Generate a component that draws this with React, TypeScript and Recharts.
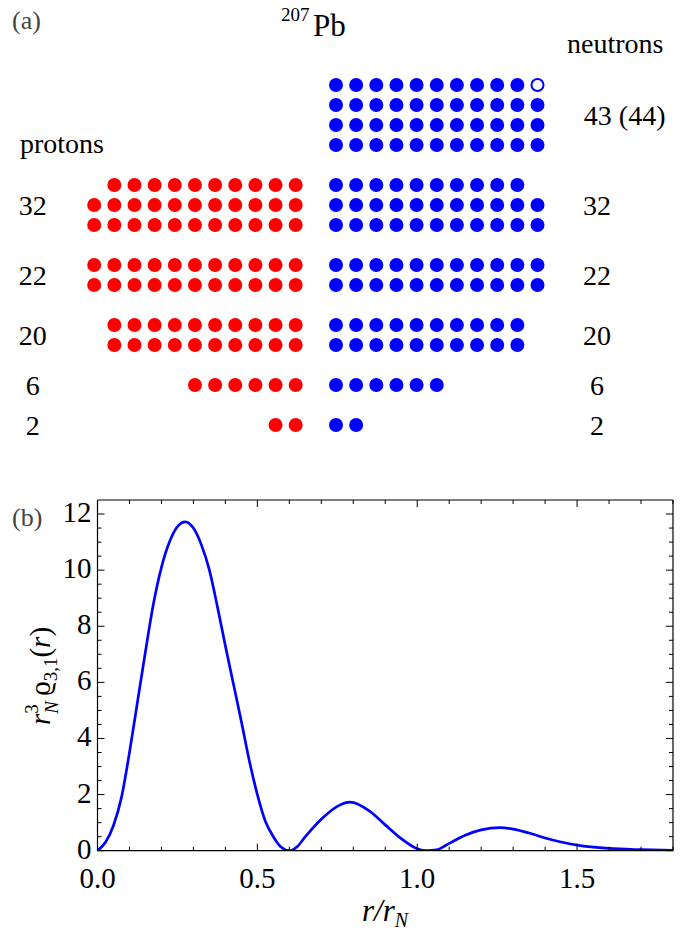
import { ScatterChart, Scatter, LineChart, Line, XAxis, YAxis, Customized } from 'recharts';

if (typeof document !== 'undefined') document.body.style.margin = '0';

const FONT = '"Liberation Serif", "Times New Roman", "DejaVu Serif", serif';
const RED = '#ff0000';
const BLUE = '#0000ff';

// ---- panel (a): occupied single-particle states of 207Pb, one entry per dot row (0 = top row)
const rowIndex = [0, 1, 2, 3, 5, 6, 7, 9, 10, 12, 13, 15, 17];
const protonCounts = [0, 0, 0, 0, 10, 11, 11, 11, 11, 10, 10, 6, 2];
const neutronCounts = [10, 11, 11, 11, 10, 11, 11, 11, 11, 10, 10, 6, 2];
const neutronHoles = [1, 0, 0, 0, 0, 0, 0, 0, 0, 0, 0, 0, 0];

// shell labels (same for both sides) and the row they sit on
const shellNames = ['32', '22', '20', '6', '2'];
const shellRows = [6, 9.5, 12.5, 15, 17];
const topShellName = '43 (44)';
const topShellRow = 1.5;

// ---- panel (b): r_N^3 rho_{3,1}(r)
const rValues = [
  0, 0.025, 0.05, 0.075, 0.1, 0.125, 0.15, 0.175, 0.2, 0.225, 0.25, 0.275, 0.3, 0.325, 0.35,
  0.375, 0.4, 0.425, 0.45, 0.475, 0.5, 0.525, 0.55, 0.575, 0.6, 0.625, 0.65, 0.7, 0.75, 0.79,
  0.85, 0.9, 0.95, 1.0, 1.03, 1.06, 1.1, 1.15, 1.2, 1.26, 1.3, 1.35, 1.4, 1.45, 1.5, 1.6, 1.7, 1.8,
];
const densityValues = [
  0, 0.3, 0.9, 1.9, 3.5, 5.3, 7.1, 8.8, 10.1, 11.0, 11.55, 11.72, 11.5, 10.9, 10.0,
  8.7, 7.3, 5.95, 4.6, 3.2, 2.0, 1.05, 0.5, 0.12, 0, 0.15, 0.5, 1.12, 1.58, 1.73,
  1.42, 0.92, 0.43, 0.07, 0, 0.03, 0.26, 0.55, 0.74, 0.82, 0.77, 0.63, 0.45, 0.31, 0.2, 0.08, 0.035, 0.01,
];

const xTicks = [0, 0.1, 0.2, 0.3, 0.4, 0.5, 0.6, 0.7, 0.8, 0.9, 1, 1.1, 1.2, 1.3, 1.4, 1.5, 1.6, 1.7, 1.8];
const xMajorTicks = [0, 0.5, 1, 1.5];
const yTicks = [0, 0.5, 1, 1.5, 2, 2.5, 3, 3.5, 4, 4.5, 5, 5.5, 6, 6.5, 7, 7.5, 8, 8.5, 9, 9.5, 10, 10.5, 11, 11.5, 12];
const yMajorTicks = [0, 2, 4, 6, 8, 10, 12];

// layout of the dot grid (column 0 = first neutron column)
const COL_PX = 20.15;
const ROW_PX = 20;
const ORIGIN_X = 336;
const ORIGIN_Y = 85;
const PANEL_A_H = 470;
const protonLastCol = -2;
const leftLabelCol = -15.05;
const rightLabelCol = 12.95;
const topLabelCol = 12.3;

const protonDots: { col: number; row: number }[] = [];
const neutronDots: { col: number; row: number }[] = [];
const holeDots: { col: number; row: number }[] = [];
rowIndex.forEach((row, i) => {
  for (let k = 0; k < protonCounts[i]; k++) protonDots.push({ col: protonLastCol - k, row });
  for (let k = 0; k < neutronCounts[i]; k++) neutronDots.push({ col: k, row });
  for (let k = 0; k < neutronHoles[i]; k++) holeDots.push({ col: neutronCounts[i] + k, row });
});

const shellLabels = [
  ...shellNames.map((text, i) => ({ col: leftLabelCol, row: shellRows[i], text, anchor: 'middle' })),
  ...shellNames.map((text, i) => ({ col: rightLabelCol, row: shellRows[i], text, anchor: 'middle' })),
  { col: topLabelCol, row: topShellRow, text: topShellName, anchor: 'start' },
];

const curveData = rValues.map((r, i) => ({ r, v: densityValues[i] }));

const Dot = (color: string) => (p: any) => <circle cx={p.cx} cy={p.cy} r={7} fill={color} />;
const Hole = (p: any) => <circle cx={p.cx} cy={p.cy} r={6} fill="#fff" stroke={BLUE} strokeWidth={2} />;
const ShellText = (p: any) => (
  <text x={p.cx} y={p.cy} dy={10} textAnchor={p.payload.anchor} fontSize={28} fontFamily={FONT} fill="#000">
    {p.payload.text}
  </text>
);

const PanelATexts = () => (
  <g fontFamily={FONT}>
    <text x={12} y={29} fontSize={26} fill="#444">(a)</text>
    <text x={281} y={21} fontSize={19} fill="#000">207</text>
    <text x={313} y={36} fontSize={31} fill="#000">Pb</text>
    <text x={567} y={53} fontSize={28} fill="#000">neutrons</text>
    <text x={20} y={153} fontSize={28} fill="#000">protons</text>
  </g>
);

const PanelBTexts = () => (
  <g fontFamily={FONT}>
    <text x={12} y={56} fontSize={26} fill="#444">(b)</text>
  </g>
);

const BottomTick = (p: any) => {
  const major = xMajorTicks.includes(p.payload.value);
  return (
    <g>
      <line x1={p.x} x2={p.x} y1={p.y} y2={p.y - (major ? 7 : 4)} stroke="#000" strokeWidth={1} />
      {major && (
        <text x={p.x} y={p.y + 37} textAnchor="middle" fontSize={29} fontFamily={FONT} fill="#000">
          {p.payload.value.toFixed(1)}
        </text>
      )}
    </g>
  );
};
const TopTick = (p: any) => {
  const major = xMajorTicks.includes(p.payload.value);
  return <line x1={p.x} x2={p.x} y1={p.y} y2={p.y + (major ? 7 : 4)} stroke="#000" strokeWidth={1} />;
};
const LeftTick = (p: any) => {
  const major = yMajorTicks.includes(p.payload.value);
  return (
    <g>
      <line x1={p.x} x2={p.x + (major ? 7 : 4)} y1={p.y} y2={p.y} stroke="#000" strokeWidth={1} />
      {major && (
        <text x={p.x - 6} y={p.y + 8} textAnchor="end" fontSize={29} fontFamily={FONT} fill="#000">
          {p.payload.value}
        </text>
      )}
    </g>
  );
};
const RightTick = (p: any) => {
  const major = yMajorTicks.includes(p.payload.value);
  return <line x1={p.x} x2={p.x - (major ? 7 : 4)} y1={p.y} y2={p.y} stroke="#000" strokeWidth={1} />;
};

const YLabel = () => (
  <text transform="translate(50, 206) rotate(-90)" textAnchor="middle" fontFamily={FONT} fontSize={29} fill="#000">
    <tspan fontStyle="italic">r</tspan>
    <tspan fontSize={19} dy={-12}>3</tspan>
    <tspan fontSize={19} fontStyle="italic" dx={-9.5} dy={20}>N</tspan>
    <tspan dx={5} dy={-8}>ϱ</tspan>
    <tspan fontSize={19} dy={7}>3,1</tspan>
    <tspan dy={-7}>(</tspan>
    <tspan fontStyle="italic">r</tspan>
    <tspan>)</tspan>
  </text>
);

const XLabel = () => (
  <text x={385} y={451} textAnchor="middle" fontFamily={FONT} fontSize={31} fontStyle="italic" fill="#000">
    r/r<tspan fontSize={20} dy={6}>N</tspan>
  </text>
);

const axisStroke = { stroke: '#000', strokeWidth: 1.2 };

export default function App() {
  return (
    <div style={{ width: 688, height: 939, background: '#fff' }}>
      <ScatterChart width={688} height={PANEL_A_H} margin={{ top: 0, right: 0, bottom: 0, left: 0 }}>
        <XAxis type="number" dataKey="col" hide domain={[-ORIGIN_X / COL_PX, (688 - ORIGIN_X) / COL_PX]} />
        <YAxis type="number" dataKey="row" hide reversed domain={[-ORIGIN_Y / ROW_PX, (PANEL_A_H - ORIGIN_Y) / ROW_PX]} />
        <Scatter data={protonDots} shape={Dot(RED)} isAnimationActive={false} />
        <Scatter data={neutronDots} shape={Dot(BLUE)} isAnimationActive={false} />
        <Scatter data={holeDots} shape={Hole} isAnimationActive={false} />
        <Scatter data={shellLabels} shape={ShellText} isAnimationActive={false} />
        <Customized component={PanelATexts} />
      </ScatterChart>
      <LineChart width={688} height={469} data={curveData} margin={{ top: 29, right: 14, bottom: 0, left: 0 }}>
        <XAxis
          type="number"
          dataKey="r"
          domain={[0, 1.8]}
          allowDataOverflow
          ticks={xTicks}
          interval={0}
          height={88.3}
          tickSize={0}
          tickMargin={0}
          tickLine={false}
          axisLine={axisStroke}
          tick={<BottomTick />}
          label={<XLabel />}
        />
        <XAxis
          xAxisId="top"
          orientation="top"
          type="number"
          dataKey="r"
          domain={[0, 1.8]}
          allowDataOverflow
          ticks={xTicks}
          interval={0}
          height={1}
          tickSize={0}
          tickMargin={0}
          tickLine={false}
          axisLine={axisStroke}
          tick={<TopTick />}
        />
        <YAxis
          type="number"
          domain={[0, 12.5]}
          allowDataOverflow
          ticks={yTicks}
          interval={0}
          width={97.5}
          tickSize={0}
          tickMargin={0}
          tickLine={false}
          axisLine={axisStroke}
          tick={<LeftTick />}
          label={<YLabel />}
        />
        <YAxis
          yAxisId="right"
          orientation="right"
          type="number"
          domain={[0, 12.5]}
          allowDataOverflow
          ticks={yTicks}
          interval={0}
          width={1}
          tickSize={0}
          tickMargin={0}
          tickLine={false}
          axisLine={axisStroke}
          tick={<RightTick />}
        />
        {/* invisible copy tied to the top/right axes so the frame gets drawn */}
        <Line
          xAxisId="top"
          yAxisId="right"
          type="monotone"
          dataKey="v"
          stroke="none"
          dot={false}
          activeDot={false}
          legendType="none"
          isAnimationActive={false}
        />
        <Line
          type="monotone"
          dataKey="v"
          stroke={BLUE}
          strokeWidth={2.7}
          dot={false}
          isAnimationActive={false}
        />
        <Customized component={PanelBTexts} />
      </LineChart>
    </div>
  );
}
